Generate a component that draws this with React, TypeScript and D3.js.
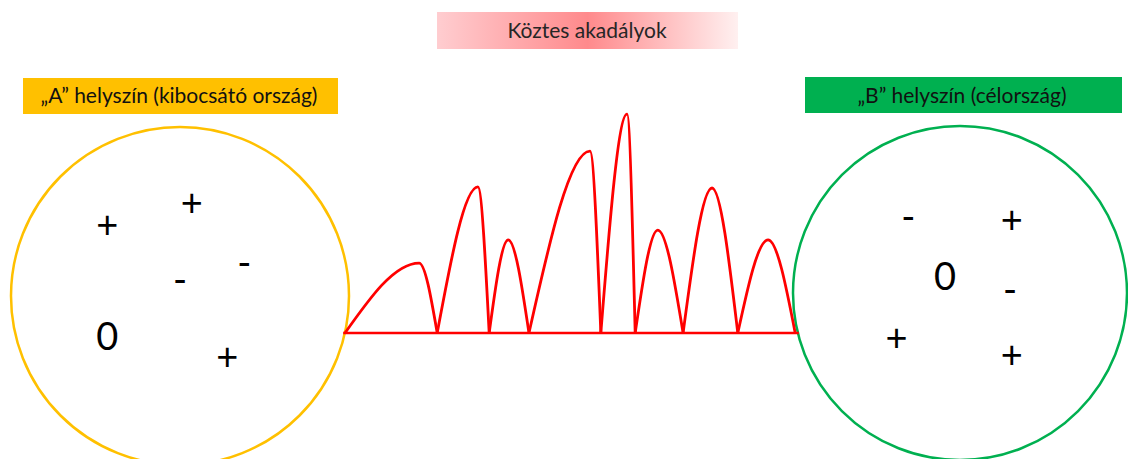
import React, { useMemo } from 'react';
import * as d3 from 'd3';

const W = 1128;
const H = 459;

// obstacles along the route: valleys (distance 0-100) and peaks (distance, height 0-100)
const valleys = [0, 20.4, 31.9, 40.7, 56.6, 64.2, 74.8, 86.9, 99.6];
const peakPos = [16.4, 29.4, 36.1, 54.2, 62.4, 69.2, 81.2, 93.6];
const peakHeight = [31.8, 66.4, 42.3, 82.7, 99.5, 46.8, 65.9, 42.3];

const titleText = 'Köztes akadályok';
const siteA = '„A” helyszín (kibocsátó ország)';
const siteB = '„B” helyszín (célország)';

// signs inside the circles, in circle-relative units (-1..1)
const signsA = ['+', '+', '-', '-', '0', '+'];
const signsAX = [-0.43, 0.07, 0.38, 0.0, -0.43, 0.28];
const signsAY = [-0.41, -0.54, -0.18, -0.08, 0.24, 0.37];

const signsB = ['-', '+', '0', '-', '+', '+'];
const signsBX = [-0.31, 0.31, -0.09, 0.3, -0.38, 0.31];
const signsBY = [-0.44, -0.43, -0.1, 0.0, 0.28, 0.38];

const FONT = 'Lato, "Open Sans", sans-serif';
const YELLOW = '#FFC000';
const GREEN = '#00B050';
const RED = '#FF0000';

const glyphSize = (s: string) => (s === '0' ? 38 : 38);
const glyphShift = (s: string) => (s === '0' ? 0.36 : s === '+' ? 0.3 : 0.27);

const Site = ({ cx, cy, r, color, signs, xs, ys }: any) => {
  const sx = d3.scaleLinear().domain([-1, 1]).range([cx - r, cx + r]);
  const sy = d3.scaleLinear().domain([-1, 1]).range([cy - r, cy + r]);
  return (
    <g>
      <circle cx={cx} cy={cy} r={r} fill="none" stroke={color} strokeWidth={2.5} />
      {signs.map((s: string, i: number) => (
        <text
          key={i}
          x={sx(xs[i])}
          y={sy(ys[i]) + glyphSize(s) * glyphShift(s)}
          textAnchor="middle"
          fontFamily={FONT}
          fontSize={glyphSize(s)}
          fill="#000"
        >
          {s}
        </text>
      ))}
    </g>
  );
};

export default function App() {
  const x = d3.scaleLinear().domain([0, 100]).range([345, 797]);
  const y = d3.scaleLinear().domain([0, 100]).range([333, 113]);

  const humps = useMemo(() => {
    const line = d3
      .line<[number, number]>()
      .x((d) => x(d[0]))
      .y((d) => y(d[1]))
      .curve(d3.curveMonotoneX);
    return peakPos.map((p, i) =>
      line([
        [valleys[i], 0],
        [p, peakHeight[i]],
        [valleys[i + 1], 0],
      ])
    );
  }, []);

  return (
    <svg
      width={W}
      height={H}
      style={{ position: 'absolute', left: 0, top: 0, display: 'block', background: '#fff' }}
    >
      <defs>
        <linearGradient id="titleGrad" x1="0" x2="1" y1="0" y2="0">
          <stop offset="0" stopColor="#ffcdd0" />
          <stop offset="0.5" stopColor="#ff8a8c" />
          <stop offset="1" stopColor="#fff0f0" />
        </linearGradient>
      </defs>

      {/* title */}
      <rect x={437} y={12} width={301} height={37} fill="url(#titleGrad)" />
      <text x={587} y={38} textAnchor="middle" fontFamily={FONT} fontSize={21} fill="#262626">
        {titleText}
      </text>

      {/* site labels */}
      <rect x={23} y={78} width={315} height={36} fill={YELLOW} />
      <text x={179} y={103} textAnchor="middle" fontFamily={FONT} fontSize={21} fill="#111">
        {siteA}
      </text>
      <rect x={805} y={77} width={317} height={36} fill={GREEN} />
      <text x={962} y={103} textAnchor="middle" fontFamily={FONT} fontSize={21} fill="#111">
        {siteB}
      </text>

      <Site cx={180} cy={296} r={169} color={YELLOW} signs={signsA} xs={signsAX} ys={signsAY} />
      <Site cx={960} cy={293} r={167} color={GREEN} signs={signsB} xs={signsBX} ys={signsBY} />

      {/* route with obstacles */}
      <line x1={x(-0.4)} x2={x(100.4)} y1={y(0)} y2={y(0)} stroke={RED} strokeWidth={2.5} />
      {humps.map((d, i) => (
        <path key={i} d={d || ''} fill="none" stroke={RED} strokeWidth={2.8} />
      ))}
    </svg>
  );
}
